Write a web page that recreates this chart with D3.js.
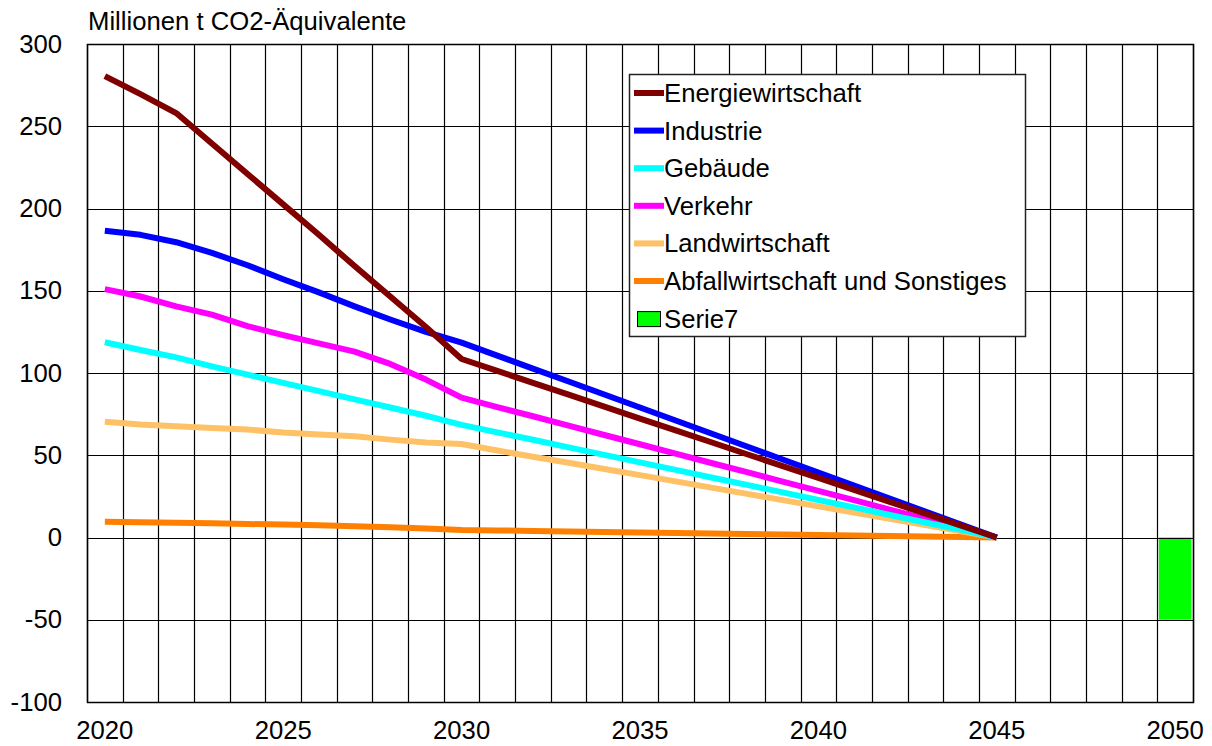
<!DOCTYPE html>
<html>
<head>
<meta charset="utf-8">
<script src="https://cdn.jsdelivr.net/npm/d3@7"></script>
<style>
  html, body { margin: 0; padding: 0; background: #fff; }
  svg { display: block; font-family: "Liberation Sans", Arial, sans-serif; }
</style>
</head>
<body>
<svg id="chart" width="1212" height="746"></svg>
<script>
// ---- data ----
const years = d3.range(2020, 2051).map(String);
const tickYears = ["2020", "2025", "2030", "2035", "2040", "2045", "2050"];
const yTicks = [300, 250, 200, 150, 100, 50, 0, -50, -100];
const yTitle = "Millionen t CO2-Äquivalente";

const energiewirtschaft = [280.5, 269.5, 258, 239.5, 221, 202.5, 184, 165, 146.5, 128, 108.5,
  101.3, 94.0, 86.8, 79.6, 72.3, 65.1, 57.9, 50.6, 43.4, 36.2, 28.9, 21.7, 14.5, 7.2, 0];
const industrie = [186.5, 184, 179.5, 173, 165.5, 157, 149, 140.5, 132.5, 125, 118.5,
  110.6, 102.7, 94.8, 86.9, 79.0, 71.1, 63.2, 55.3, 47.4, 39.5, 31.6, 23.7, 15.8, 7.9, 0];
const gebaeude = [118.7, 114, 109.5, 104, 99, 94, 89, 84, 79, 74, 68.5,
  63.9, 59.4, 54.8, 50.2, 45.7, 41.1, 36.5, 32.0, 27.4, 22.8, 18.3, 13.7, 9.1, 4.6, 0];
const verkehr = [151, 146.5, 140.5, 135.5, 128.5, 123, 118, 113, 105.5, 96, 85,
  79.3, 73.7, 68.0, 62.3, 56.7, 51.0, 45.3, 39.7, 34.0, 28.3, 22.7, 17.0, 11.3, 5.7, 0];
const landwirtschaft = [70.3, 68.7, 67.6, 66.6, 65.6, 63.8, 62.6, 61.5, 59.5, 57.8, 56.8,
  52.9, 49.1, 45.4, 41.6, 37.9, 34.1, 30.3, 26.5, 22.7, 18.9, 15.1, 11.4, 7.6, 3.8, 0];
const abfall = [9.5, 9.3, 8.9, 8.6, 8.2, 7.9, 7.4, 6.9, 6.2, 5.4, 4.6,
  4.3, 4.0, 3.7, 3.4, 3.1, 2.8, 2.5, 2.1, 1.8, 1.5, 1.2, 0.9, 0.6, 0.3, 0];
const serie7Year = "2050";
const serie7Value = -50;

const seriesNames = ["Energiewirtschaft", "Industrie", "Gebäude", "Verkehr", "Landwirtschaft", "Abfallwirtschaft und Sonstiges"];
const seriesValues = [energiewirtschaft, industrie, gebaeude, verkehr, landwirtschaft, abfall];
const seriesColors = ["#800000", "#0000ff", "#00ffff", "#ff00ff", "#ffc166", "#ff8000"];
const barName = "Serie7";
const barColor = "#00ff00";

// ---- layout ----
const FS = 25.7;
const svg = d3.select("#chart");
const pL = 87, pR = 1193, pT = 44, pB = 702;

const x = d3.scaleBand().domain(years).range([pL, pR]).paddingInner(0).paddingOuter(0);
const y = d3.scaleLinear().domain([-100, 300]).range([pB, pT]);

// bar (drawn first)
svg.append("rect")
  .attr("x", x(serie7Year) + 1.5)
  .attr("y", y(0))
  .attr("width", x.bandwidth() - 3)
  .attr("height", y(serie7Value) - y(0))
  .attr("fill", barColor);

// grid
const grid = svg.append("g");
const edges = years.map(d => x(d)).concat([pR]);
grid.selectAll("line.v").data(edges).enter().append("line")
  .attr("x1", d => Math.round(d) + 0.5).attr("x2", d => Math.round(d) + 0.5)
  .attr("y1", pT).attr("y2", pB)
  .attr("stroke", "#000").attr("stroke-width", 1.2);
grid.selectAll("line.h").data(yTicks).enter().append("line")
  .attr("x1", pL).attr("x2", pR)
  .attr("y1", d => Math.round(y(d)) + 0.5).attr("y2", d => Math.round(y(d)) + 0.5)
  .attr("stroke", "#000").attr("stroke-width", 1.2);
svg.append("rect").attr("x", pL + 0.5).attr("y", pT + 0.5)
  .attr("width", pR - pL).attr("height", pB - pT)
  .attr("fill", "none").attr("stroke", "#000").attr("stroke-width", 1.5);

// axes (labels only)
const yAxis = d3.axisLeft(y).tickValues(yTicks).tickSize(0).tickPadding(25)
  .tickFormat(d => String(d));
const gy = svg.append("g").attr("transform", `translate(${pL},0)`).call(yAxis);
gy.select(".domain").remove();
gy.selectAll("text").attr("font-size", FS).attr("fill", "#000")
  .attr("font-family", "Liberation Sans, Arial, sans-serif");

const xAxis = d3.axisBottom(x).tickValues(tickYears).tickSize(0).tickPadding(19);
const gx = svg.append("g").attr("transform", `translate(0,${pB})`).call(xAxis);
gx.select(".domain").remove();
gx.selectAll("text").attr("font-size", FS).attr("fill", "#000")
  .attr("font-family", "Liberation Sans, Arial, sans-serif");

// title
svg.append("text").attr("x", 88).attr("y", 30).attr("font-size", FS)
  .attr("fill", "#000").text(yTitle);

// lines (drawn in reverse order so first series is on top)
const line = d3.line()
  .defined(d => d.v != null)
  .x(d => x(d.year) + x.bandwidth() / 2)
  .y(d => y(d.v));
for (let i = seriesValues.length - 1; i >= 0; i--) {
  const pts = seriesValues[i].map((v, k) => ({ year: years[k], v }));
  svg.append("path").datum(pts)
    .attr("d", line)
    .attr("fill", "none")
    .attr("stroke", seriesColors[i])
    .attr("stroke-width", 6)
    .attr("stroke-linejoin", "round")
    .attr("stroke-linecap", "butt");
}

// legend
const lg = svg.append("g");
lg.append("rect").attr("x", 629.5).attr("y", 74.5).attr("width", 396).attr("height", 262)
  .attr("fill", "#fff").attr("stroke", "#222").attr("stroke-width", 1.5);
const rowY0 = 93, rowStep = 37.6;
seriesNames.forEach((name, i) => {
  const cy = rowY0 + i * rowStep;
  lg.append("line").attr("x1", 634).attr("x2", 664).attr("y1", cy).attr("y2", cy)
    .attr("stroke", seriesColors[i]).attr("stroke-width", 6);
  lg.append("text").attr("x", 664).attr("y", cy).attr("dy", "0.35em")
    .attr("font-size", FS).attr("fill", "#000").text(name);
});
{
  const cy = rowY0 + seriesNames.length * rowStep;
  lg.append("rect").attr("x", 637.5).attr("y", cy - 7).attr("width", 23).attr("height", 15)
    .attr("fill", barColor).attr("stroke", "#000").attr("stroke-width", 1);
  lg.append("text").attr("x", 664).attr("y", cy).attr("dy", "0.35em")
    .attr("font-size", FS).attr("fill", "#000").text(barName);
}
</script>
</body>
</html>
